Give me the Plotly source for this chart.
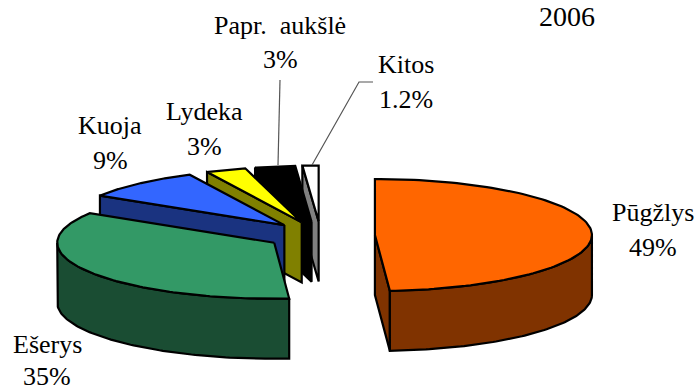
import numpy as np
import plotly.graph_objects as go

# Fish catch shares, 2006
species = ["Pūgžlys", "Ešerys", "Kuoja", "Lydeka", "Papr.\u00a0 aukšlė", "Kitos"]
shares = [49, 35, 9, 3, 3, 1.2]
top_colors = ["#FF6600", "#339966", "#3366FF", "#FFFF00", "#000000", "#FFFFFF"]
wall_colors = ["#803300", "#1A4D33", "#1A3380", "#808000", "#000000", "#808080"]

# Pie projection, in pixels
CX, CY = 320.7, 235.5
RX, RY = 217.0, 56.0
DEPTH = 60.0
EXPLODE = 0.25
OUTLINE = dict(color="#000000", width=2.2)

# Label anchor per slice, same order as species: centre x, first line y, second line y
label_pos = [
    (653, 212, 247),
    (47, 344, 376),
    (110, 125, 160),
    (204, 111, 146),
    (280, 25, 59),
    (406, 64, 99),
]


def rim(theta, ox, oy):
    return ox + RX * np.sin(theta), oy - RY * np.cos(theta)


def polygon(xs, ys, fill):
    return go.Scatter(
        x=np.append(xs, xs[0]), y=np.append(ys, ys[0]),
        mode="lines", fill="toself", fillcolor=fill, line=OUTLINE,
        hoverinfo="skip", showlegend=False,
    )


def cut_face(theta, ox, oy, fill):
    rx, ry = rim(theta, ox, oy)
    return polygon(
        np.array([ox, rx, rx, ox]),
        np.array([oy, ry, ry + DEPTH, oy + DEPTH]),
        fill,
    )


def slice_traces(a0, a1, top, wall):
    mid = (a0 + a1) / 2
    ox = CX + EXPLODE * RX * np.sin(mid)
    oy = CY - EXPLODE * RY * np.cos(mid)
    traces = []
    # Only the faces turned towards the viewer are drawn
    if np.sin(a1) > 1e-6:
        traces.append(cut_face(a1, ox, oy, wall))
    if np.sin(a0) < -1e-6:
        traces.append(cut_face(a0, ox, oy, wall))
    lo, hi = max(a0, np.pi / 2), min(a1, 3 * np.pi / 2)
    if hi > lo:
        t = np.linspace(lo, hi, 90)
        xs, ys = rim(t, ox, oy)
        traces.append(polygon(np.r_[xs, xs[::-1]], np.r_[ys, ys[::-1] + DEPTH], wall))
    t = np.linspace(a0, a1, 120)
    xs, ys = rim(t, ox, oy)
    traces.append(polygon(np.r_[ox, xs], np.r_[oy, ys], top))
    return traces


edges = np.r_[0, np.cumsum(shares)] / sum(shares) * 2 * np.pi

fig = go.Figure()
# Painted from the back of the pie to the front
for i in range(len(species) - 1, -1, -1):
    fig.add_traces(slice_traces(edges[i], edges[i + 1], top_colors[i], wall_colors[i]))

# Leader lines for the two thin slices
for lx, ly in [([280, 278], [80, 165]), ([373, 359, 312], [82, 82, 165])]:
    fig.add_trace(go.Scatter(x=lx, y=ly, mode="lines", hoverinfo="skip", showlegend=False,
                             line=dict(color="#555555", width=1.2)))

FONT = dict(family="Liberation Serif", size=26, color="#000000")


def label(x, y, text, font=FONT):
    return dict(x=x, y=y, text=text, showarrow=False, font=font,
                xref="x", yref="y", xanchor="center", yanchor="middle")


annotations = [label(567, 16, "2006", dict(FONT, size=28))]
for name, share, (x, y1, y2) in zip(species, shares, label_pos):
    annotations.append(label(x, y1, name))
    annotations.append(label(x, y2, f"{share}%"))

fig.update_layout(
    width=698, height=392,
    margin=dict(l=0, r=0, t=0, b=0),
    paper_bgcolor="#FFFFFF", plot_bgcolor="#FFFFFF",
    showlegend=False,
    annotations=annotations,
    xaxis=dict(range=[0, 698], visible=False, fixedrange=True),
    yaxis=dict(range=[392, 0], visible=False, fixedrange=True),
)
fig.write_html("out.html", config=dict(displayModeBar=False))
